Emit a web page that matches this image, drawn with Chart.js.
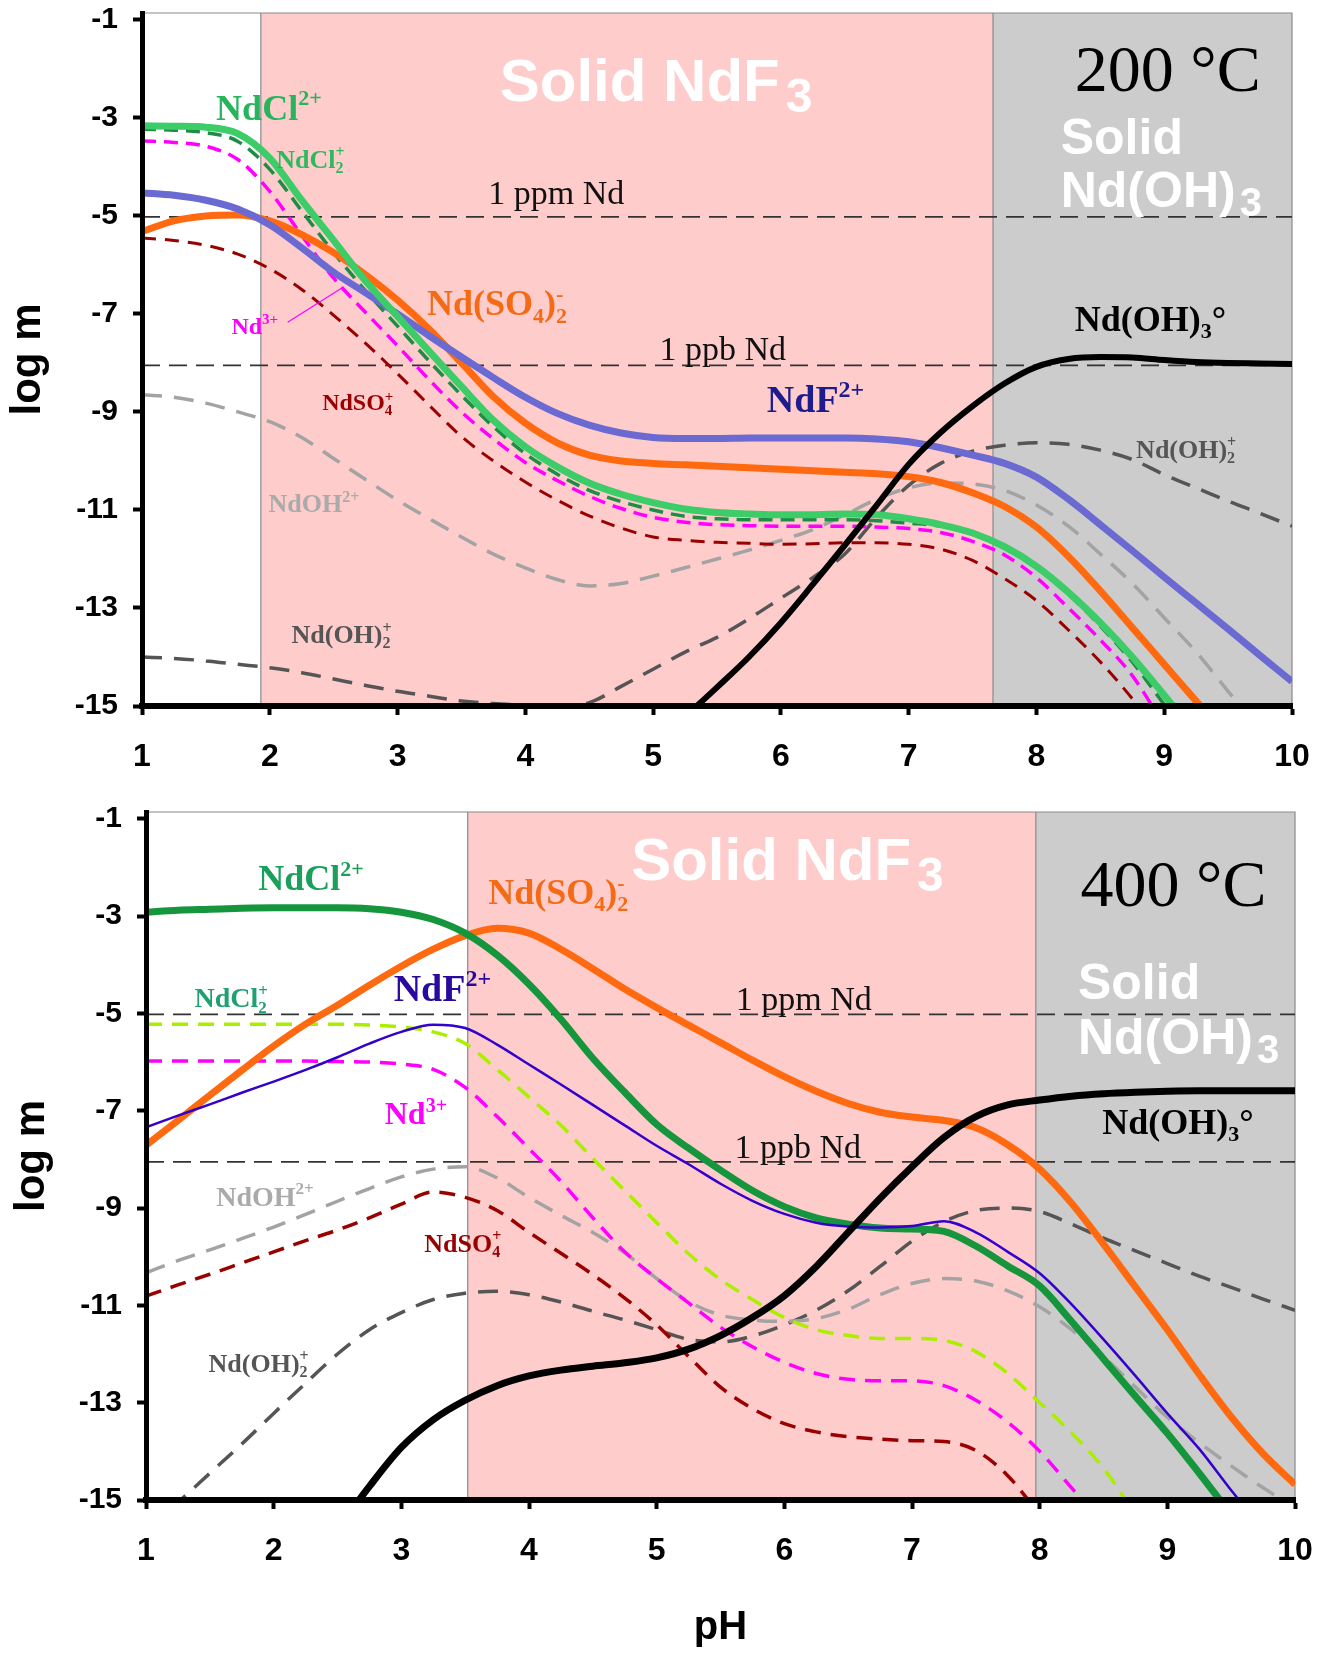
<!DOCTYPE html>
<html>
<head>
<meta charset="utf-8">
<title>Nd speciation vs pH, 200 and 400 °C</title>
<script src="https://cdn.jsdelivr.net/npm/chart.js@4.4.1/dist/chart.umd.min.js"></script>
<style>
  body { margin: 0; background: #fff; }
  #wrap { position: relative; width: 1321px; height: 1654px; }
  canvas { position: absolute; left: 0; }
  #chart200 { top: 0; }
  #chart400 { top: 780px; }
</style>
</head>
<body>
<div id="wrap">
  <canvas id="chart200" width="1321" height="780"></canvas>
  <canvas id="chart400" width="1321" height="874"></canvas>
</div>
<script>
// pH grid shared by every curve
const pH = [1, 1.25, 1.5, 1.75, 2, 2.25, 2.5, 2.75,
            3, 3.25, 3.5, 3.75, 4, 4.25, 4.5, 4.75,
            5, 5.25, 5.5, 5.75, 6, 6.25, 6.5, 6.75,
            7, 7.25, 7.5, 7.75, 8, 8.25, 8.5, 8.75,
            9, 9.25, 9.5, 9.75, 10];

const logTicks = [-1, -3, -5, -7, -9, -11, -13, -15];
const ppmLevel = -5.02;
const ppbLevel = -8.05;

// pH where solid NdF3 field starts, where solid Nd(OH)3 field starts
const fields200 = [1.93, 7.66];
const fields400 = [3.52, 7.97];

// ---- 200 °C (log m) ----
const t200_NdCl = [-3.16, -3.17, -3.19, -3.32, -3.82, -4.68, -5.5, -6.33,
  -7.05, -7.77, -8.48, -9.17, -9.71, -10.12, -10.45, -10.68,
  -10.85, -10.98, -11.05, -11.08, -11.1, -11.1, -11.08, -11.1,
  -11.18, -11.3, -11.47, -11.75, -12.15, -12.68, -13.3, -14.0,
  -14.78, -15.6, null, null, null];
const t200_NdCl2 = [-3.23, -3.25, -3.3, -3.48, -4.05, -4.9, -5.75, -6.53,
  -7.25, -7.97, -8.66, -9.3, -9.85, -10.27, -10.6, -10.83,
  -11.0, -11.13, -11.18, -11.2, -11.2, -11.2, -11.2, -11.22,
  -11.27, -11.33, -11.5, -11.78, -12.18, -12.72, -13.37, -14.1,
  -14.97, -15.8, null, null, null];
const t200_Nd = [-3.47, -3.5, -3.58, -3.85, -4.5, -5.4, -6.27, -6.97,
  -7.65, -8.35, -9.0, -9.55, -10.03, -10.4, -10.72, -10.97,
  -11.15, -11.25, -11.3, -11.32, -11.33, -11.33, -11.33, -11.35,
  -11.38, -11.46, -11.64, -11.92, -12.38, -13.0, -13.65, -14.38,
  -15.4, null, null, null, null];
const t200_NdF = [-4.53, -4.58, -4.68, -4.86, -5.18, -5.65, -6.15, -6.57,
  -7.0, -7.45, -7.88, -8.3, -8.7, -9.03, -9.27, -9.43,
  -9.52, -9.54, -9.54, -9.53, -9.53, -9.53, -9.53, -9.55,
  -9.61, -9.73, -9.88, -10.05, -10.33, -10.78, -11.3, -11.83,
  -12.37, -12.9, -13.43, -13.97, -14.5];
const t200_NdSO4_2 = [-5.32, -5.1, -5.0, -4.98, -5.1, -5.38, -5.75, -6.2,
  -6.72, -7.32, -8.0, -8.69, -9.23, -9.63, -9.88, -10.0,
  -10.05, -10.08, -10.11, -10.14, -10.17, -10.2, -10.23, -10.26,
  -10.32, -10.44, -10.65, -10.93, -11.35, -11.95, -12.65, -13.4,
  -14.15, -14.9, -15.65, null, null];
const t200_NdSO4 = [-5.45, -5.5, -5.6, -5.78, -6.08, -6.5, -7.03, -7.6,
  -8.22, -8.87, -9.5, -10.0, -10.43, -10.8, -11.12, -11.37,
  -11.55, -11.62, -11.66, -11.68, -11.7, -11.69, -11.67, -11.67,
  -11.7, -11.8, -12.03, -12.4, -12.85, -13.45, -14.1, -14.85,
  -15.7, null, null, null, null];
const t200_NdOH = [-8.65, -8.7, -8.82, -9.0, -9.2, -9.52, -9.95, -10.38,
  -10.8, -11.18, -11.55, -11.9, -12.18, -12.42, -12.55, -12.5,
  -12.35, -12.18, -12.0, -11.82, -11.62, -11.4, -11.1, -10.78,
  -10.55, -10.45, -10.47, -10.6, -10.9, -11.33, -11.9, -12.5,
  -13.2, -13.9, -14.7, -15.5, null];
const t200_NdOH2 = [-14.0, -14.03, -14.08, -14.15, -14.22, -14.32, -14.45, -14.58,
  -14.7, -14.8, -14.9, -14.95, -14.98, -15.0, -14.93, -14.6,
  -14.25, -13.9, -13.6, -13.22, -12.8, -12.38, -11.9, -11.15,
  -10.5, -10.05, -9.8, -9.68, -9.63, -9.66, -9.78, -9.97,
  -10.28, -10.55, -10.82, -11.07, -11.33];
const t200_NdOH3 = [null, null, null, null, null, null, null, null,
  null, null, null, null, null, null, null, null,
  null, -15.22, -14.62, -14.0, -13.3, -12.52, -11.72, -10.9,
  -10.07, -9.42, -8.88, -8.42, -8.08, -7.92, -7.88, -7.89,
  -7.94, -7.98, -8.0, -8.01, -8.02];

// ---- 400 °C (log m) ----
const t400_NdCl = [-2.92, -2.88, -2.86, -2.84, -2.83, -2.83, -2.83, -2.85,
  -2.92, -3.07, -3.35, -3.8, -4.4, -5.12, -5.92, -6.62,
  -7.28, -7.77, -8.22, -8.64, -8.97, -9.2, -9.33, -9.41,
  -9.43, -9.48, -9.78, -10.19, -10.6, -11.33, -12.1, -12.87,
  -13.63, -14.45, -15.3, null, null];
const t400_NdCl2 = [-5.22, -5.22, -5.22, -5.22, -5.22, -5.22, -5.22, -5.24,
  -5.28, -5.38, -5.62, -6.15, -6.72, -7.3, -7.98, -8.64,
  -9.3, -9.94, -10.47, -10.88, -11.25, -11.5, -11.62, -11.68,
  -11.68, -11.72, -11.95, -12.4, -13.0, -13.62, -14.35, -15.3,
  null, null, null, null, null];
const t400_Nd = [-5.98, -5.98, -5.98, -5.98, -5.98, -5.98, -5.99, -6.0,
  -6.04, -6.15, -6.52, -7.12, -7.78, -8.45, -9.2, -9.9,
  -10.45, -10.95, -11.45, -11.85, -12.17, -12.4, -12.52, -12.55,
  -12.55, -12.65, -12.95, -13.4, -14.0, -14.75, -15.5, null,
  null, null, null, null, null];
const t400_NdF = [-7.34, -7.1, -6.87, -6.63, -6.4, -6.16, -5.9, -5.62,
  -5.38, -5.23, -5.3, -5.64, -6.05, -6.46, -6.88, -7.3,
  -7.72, -8.1, -8.5, -8.85, -9.12, -9.3, -9.38, -9.4,
  -9.37, -9.27, -9.5, -9.9, -10.34, -10.98, -11.7, -12.45,
  -13.22, -13.95, -14.8, -15.6, null];
const t400_NdSO4_2 = [-7.71, -7.2, -6.68, -6.17, -5.67, -5.22, -4.83, -4.42,
  -4.03, -3.68, -3.4, -3.25, -3.35, -3.68, -4.08, -4.5,
  -4.88, -5.24, -5.6, -5.96, -6.3, -6.6, -6.85, -7.03,
  -7.13, -7.2, -7.35, -7.7, -8.2, -8.9, -9.74, -10.62,
  -11.5, -12.42, -13.29, -14.05, -14.68];
const t400_NdSO4 = [-10.81, -10.58, -10.36, -10.13, -9.9, -9.67, -9.45, -9.2,
  -8.92, -8.67, -8.78, -9.05, -9.5, -9.93, -10.37, -10.85,
  -11.4, -12.05, -12.68, -13.12, -13.43, -13.6, -13.7, -13.75,
  -13.78, -13.8, -13.98, -14.5, -15.3, null, null, null,
  null, null, null, null, null];
const t400_NdOH = [-10.33, -10.08, -9.86, -9.63, -9.39, -9.13, -8.86, -8.6,
  -8.36, -8.2, -8.15, -8.38, -8.78, -9.15, -9.5, -9.92,
  -10.45, -10.92, -11.2, -11.3, -11.33, -11.27, -11.08, -10.78,
  -10.55, -10.45, -10.5, -10.7, -11.03, -11.5, -12.05, -12.68,
  -13.3, -13.82, -14.3, -14.75, -15.15];
const t400_NdOH2 = [-15.6, -15.05, -14.45, -13.85, -13.22, -12.6, -12.0, -11.5,
  -11.15, -10.88, -10.75, -10.71, -10.78, -10.93, -11.12, -11.3,
  -11.5, -11.7, -11.75, -11.63, -11.4, -11.1, -10.7, -10.2,
  -9.68, -9.28, -9.05, -9.0, -9.07, -9.33, -9.62, -9.88,
  -10.14, -10.4, -10.63, -10.87, -11.1];
const t400_NdOH3 = [null, null, null, null, null, null, -15.6, -14.72,
  -13.92, -13.35, -12.95, -12.65, -12.45, -12.33, -12.25, -12.18,
  -12.08, -11.9, -11.62, -11.25, -10.8, -10.2, -9.5, -8.8,
  -8.15, -7.55, -7.12, -6.88, -6.78, -6.7, -6.65, -6.62,
  -6.6, -6.59, -6.59, -6.59, -6.59];

const SANS = '"Liberation Sans", Arial, sans-serif';
const SERIF = '"Liberation Serif", "Times New Roman", serif';

function curve(label, values, color, width, dash) {
  return {
    label: label,
    data: pH.map((x, i) => ({ x: x, y: values[i] })),
    borderColor: color,
    borderWidth: width,
    borderDash: dash || [],
    borderCapStyle: 'butt',
    borderJoinStyle: 'round',
    pointRadius: 0,
    fill: false,
    cubicInterpolationMode: 'monotone',
    spanGaps: false,
    clip: 0
  };
}

function refLine(label, level) {
  return {
    label: label,
    data: [{ x: 1, y: level }, { x: 10, y: level }],
    borderColor: '#333',
    borderWidth: 1.6,
    borderDash: [18, 9],
    pointRadius: 0,
    fill: false,
    clip: 0
  };
}

// Background stability fields + thin frame
const fieldsPlugin = {
  id: 'fields',
  beforeDraw(chart, args, opts) {
    const { ctx, chartArea: a, scales: { x } } = chart;
    const x1 = x.getPixelForValue(opts.bounds[0]);
    const x2 = x.getPixelForValue(opts.bounds[1]);
    ctx.save();
    ctx.fillStyle = '#ffcccc';
    ctx.fillRect(x1, a.top, x2 - x1, a.bottom - a.top);
    ctx.fillStyle = '#cccccc';
    ctx.fillRect(x2, a.top, a.right - x2, a.bottom - a.top);
    ctx.strokeStyle = '#8a8a8a';
    ctx.lineWidth = 1.2;
    ctx.beginPath();
    ctx.moveTo(x1, a.bottom); ctx.lineTo(x1, a.top);
    ctx.moveTo(x2, a.bottom); ctx.lineTo(x2, a.top);
    ctx.moveTo(a.left, a.top); ctx.lineTo(a.right, a.top); ctx.lineTo(a.right, a.bottom);
    ctx.stroke();
    ctx.restore();
  }
};

// Text with superscripts / subscripts, anchored at the left baseline
function drawRich(ctx, x, y, lab) {
  const size = lab.size;
  const weight = lab.weight || 'bold';
  const family = lab.family || SERIF;
  const subScale = lab.subScale || 0.62;
  const small = Math.round(size * subScale);
  ctx.fillStyle = lab.color;
  ctx.textAlign = 'left';
  ctx.textBaseline = 'alphabetic';
  lab.parts.forEach(p => {
    if (p.gap) { x += p.gap; return; }
    if (p.n !== undefined) {
      ctx.font = weight + ' ' + size + 'px ' + family;
      ctx.fillText(p.n, x, y);
      x += ctx.measureText(p.n).width;
      return;
    }
    ctx.font = weight + ' ' + small + 'px ' + family;
    let w = 0;
    if (p.sup) {
      ctx.fillText(p.sup, x, y - size * 0.4);
      w = ctx.measureText(p.sup).width;
    }
    if (p.sub) {
      ctx.fillText(p.sub, x, y + size * (lab.subShift || 0.2));
      w = Math.max(w, ctx.measureText(p.sub).width);
    }
    x += w;
  });
}

const labelsPlugin = {
  id: 'speciesLabels',
  afterDraw(chart, args, opts) {
    const { ctx, scales: { x, y } } = chart;
    ctx.save();
    (opts.leaders || []).forEach(l => {
      ctx.strokeStyle = l.color;
      ctx.lineWidth = 1.2;
      ctx.beginPath();
      ctx.moveTo(x.getPixelForValue(l.from[0]), y.getPixelForValue(l.from[1]));
      ctx.lineTo(x.getPixelForValue(l.to[0]), y.getPixelForValue(l.to[1]));
      ctx.stroke();
    });
    (opts.items || []).forEach(lab => {
      drawRich(ctx, x.getPixelForValue(lab.x), y.getPixelForValue(lab.y), lab);
    });
    ctx.restore();
  }
};

const labels200 = [
  { x: 3.80, y: -2.65, parts: [{ n: 'Solid NdF' }, { gap: 6 }, { sub: '3' }], size: 60, family: SANS, color: '#fff', subScale: 0.8, subShift: 0.18 },
  { x: 8.30, y: -2.45, parts: [{ n: '200 °C' }], size: 66, weight: 'normal', color: '#000' },
  { x: 8.19, y: -3.73, parts: [{ n: 'Solid' }], size: 50, family: SANS, color: '#fff' },
  { x: 8.19, y: -4.81, parts: [{ n: 'Nd(OH)' }, { gap: 4 }, { sub: '3' }], size: 50, family: SANS, color: '#fff', subScale: 0.8, subShift: 0.18 },
  { x: 1.58, y: -3.04, parts: [{ n: 'NdCl' }, { sup: '2+' }], size: 36, color: '#28b45c' },
  { x: 2.05, y: -4.02, parts: [{ n: 'NdCl' }, { sub: '2', sup: '+' }], size: 26, color: '#2fb860' },
  { x: 3.71, y: -4.75, parts: [{ n: '1 ppm Nd' }], size: 34, weight: 'normal', color: '#111' },
  { x: 3.23, y: -7.03, parts: [{ n: 'Nd(SO' }, { sub: '4' }, { n: ')' }, { sub: '2', sup: '-' }], size: 36, color: '#f56b15' },
  { x: 1.70, y: -7.40, parts: [{ n: 'Nd' }, { sup: '3+' }], size: 24, color: '#ff00ff' },
  { x: 5.05, y: -7.95, parts: [{ n: '1 ppb Nd' }], size: 34, weight: 'normal', color: '#111' },
  { x: 2.41, y: -8.97, parts: [{ n: 'NdSO' }, { sub: '4', sup: '+' }], size: 24, color: '#990000' },
  { x: 5.89, y: -9.01, parts: [{ n: 'NdF' }, { sup: '2+' }], size: 38, color: '#1c1c8f' },
  { x: 8.30, y: -7.34, parts: [{ n: 'Nd(OH)' }, { sub: '3' }, { n: '°' }], size: 36, color: '#000' },
  { x: 8.78, y: -9.93, parts: [{ n: 'Nd(OH)' }, { sub: '2', sup: '+' }], size: 26, color: '#555' },
  { x: 1.99, y: -11.05, parts: [{ n: 'NdOH' }, { sup: '2+' }], size: 26, color: '#aaaaaa' },
  { x: 2.17, y: -13.72, parts: [{ n: 'Nd(OH)' }, { sub: '2', sup: '+' }], size: 26, color: '#555' }
];
const leaders200 = [{ from: [2.14, -7.17], to: [2.57, -6.46], color: '#ff00ff' }];

const labels400 = [
  { x: 4.80, y: -2.26, parts: [{ n: 'Solid NdF' }, { gap: 6 }, { sub: '3' }], size: 60, family: SANS, color: '#fff', subScale: 0.8, subShift: 0.18 },
  { x: 8.32, y: -2.79, parts: [{ n: '400 °C' }], size: 66, weight: 'normal', color: '#000' },
  { x: 8.30, y: -4.71, parts: [{ n: 'Solid' }], size: 50, family: SANS, color: '#fff' },
  { x: 8.30, y: -5.84, parts: [{ n: 'Nd(OH)' }, { gap: 4 }, { sub: '3' }], size: 50, family: SANS, color: '#fff', subScale: 0.8, subShift: 0.18 },
  { x: 1.88, y: -2.47, parts: [{ n: 'NdCl' }, { sup: '2+' }], size: 36, color: '#1aa05a' },
  { x: 3.68, y: -2.75, parts: [{ n: 'Nd(SO' }, { sub: '4' }, { n: ')' }, { sub: '2', sup: '-' }], size: 36, color: '#f56b15' },
  { x: 1.38, y: -4.87, parts: [{ n: 'NdCl' }, { sub: '2', sup: '+' }], size: 28, color: '#1ea070' },
  { x: 2.94, y: -4.75, parts: [{ n: 'NdF' }, { sup: '2+' }], size: 38, color: '#2a0a9e' },
  { x: 5.62, y: -4.93, parts: [{ n: '1 ppm Nd' }], size: 34, weight: 'normal', color: '#111' },
  { x: 2.87, y: -7.28, parts: [{ n: 'Nd' }, { sup: '3+' }], size: 32, color: '#ff00ff' },
  { x: 5.61, y: -7.97, parts: [{ n: '1 ppb Nd' }], size: 34, weight: 'normal', color: '#111' },
  { x: 8.49, y: -7.47, parts: [{ n: 'Nd(OH)' }, { sub: '3' }, { n: '°' }], size: 36, color: '#000' },
  { x: 1.55, y: -8.95, parts: [{ n: 'NdOH' }, { sup: '2+' }], size: 28, color: '#aaaaaa' },
  { x: 3.18, y: -9.90, parts: [{ n: 'NdSO' }, { sub: '4', sup: '+' }], size: 26, color: '#990000' },
  { x: 1.49, y: -12.36, parts: [{ n: 'Nd(OH)' }, { sub: '2', sup: '+' }], size: 26, color: '#555' }
];

function makeChart(id, datasets, cfg) {
  return new Chart(document.getElementById(id), {
    type: 'line',
    data: { datasets: datasets },
    options: {
      responsive: false,
      animation: false,
      devicePixelRatio: 1,
      layout: { autoPadding: false, padding: { top: cfg.padTop, right: cfg.padRight, left: 0, bottom: 0 } },
      plugins: {
        legend: { display: false },
        tooltip: { enabled: false },
        fields: { bounds: cfg.fields },
        speciesLabels: { items: cfg.labels, leaders: cfg.leaders }
      },
      scales: {
        x: {
          type: 'linear', min: 1, max: 10,
          ticks: { stepSize: 1, padding: 23, color: '#000', font: { family: SANS, size: 32, weight: 'bold' } },
          grid: { drawOnChartArea: false, drawTicks: true, tickLength: 9, tickWidth: 4, tickColor: '#000' },
          border: { display: true, color: '#000', width: 6, z: 1 },
          title: {
            display: cfg.showPH, text: 'pH', color: '#000',
            font: { family: SANS, size: 40, weight: 'bold' }, padding: { top: 0, bottom: 2 }
          },
          afterFit(scale) {
            scale.height = cfg.xHeight;
            scale.paddingLeft = 0;
            scale.paddingRight = 0;
          }
        },
        y: {
          type: 'linear', min: -15, max: -0.86,
          afterBuildTicks(scale) { scale.ticks = logTicks.map(v => ({ value: v })); },
          ticks: { padding: 15, color: '#000', font: { family: SANS, size: 30, weight: 'bold' }, callback: v => String(v) },
          grid: { drawOnChartArea: false, drawTicks: true, tickLength: 9, tickWidth: 4, tickColor: '#000' },
          border: { display: true, color: '#000', width: 5, z: 1 },
          title: {
            display: true, text: 'log m', color: '#000',
            font: { family: SANS, size: 42, weight: 'bold' }, padding: { top: cfg.titlePad, bottom: 0 }
          },
          afterFit(scale) {
            scale.width = cfg.yWidth;
            scale.paddingTop = 0;
            scale.paddingBottom = 0;
          }
        }
      }
    },
    plugins: [fieldsPlugin, labelsPlugin]
  });
}

// first dataset is drawn on top
makeChart('chart200', [
  curve('Nd(OH)3°', t200_NdOH3, '#000', 6),
  curve('NdCl2+', t200_NdCl, '#3ccc68', 7),
  curve('NdF2+', t200_NdF, '#6a6ad2', 7),
  curve('Nd(SO4)2-', t200_NdSO4_2, '#ff6a10', 7),
  curve('NdCl2+ (Cl2)', t200_NdCl2, '#1f8c46', 3.5, [14, 8]),
  curve('Nd3+', t200_Nd, '#ff00ff', 3.5, [14, 8]),
  curve('NdSO4+', t200_NdSO4, '#990000', 3, [14, 9]),
  curve('NdOH2+', t200_NdOH, '#a3a3a3', 3.5, [20, 12]),
  curve('Nd(OH)2+', t200_NdOH2, '#555555', 3.5, [20, 12]),
  refLine('1 ppm Nd', ppmLevel),
  refLine('1 ppb Nd', ppbLevel)
], { padTop: 13, padRight: 29, xHeight: 74, yWidth: 142, titlePad: 3, showPH: false,
     fields: fields200, labels: labels200, leaders: leaders200 });

makeChart('chart400', [
  curve('Nd(OH)3°', t400_NdOH3, '#000', 7),
  curve('NdF2+', t400_NdF, '#3300cc', 2.5),
  curve('NdCl2+', t400_NdCl, '#15963c', 7),
  curve('Nd(SO4)2-', t400_NdSO4_2, '#ff6a10', 7),
  curve('NdCl2+ (Cl2)', t400_NdCl2, '#aaee00', 3.5, [16, 10]),
  curve('Nd3+', t400_Nd, '#ff00ff', 3.5, [16, 10]),
  curve('NdSO4+', t400_NdSO4, '#990000', 3.5, [16, 10]),
  curve('NdOH2+', t400_NdOH, '#a3a3a3', 3.5, [20, 12]),
  curve('Nd(OH)2+', t400_NdOH2, '#555555', 3.5, [20, 12]),
  refLine('1 ppm Nd', ppmLevel),
  refLine('1 ppb Nd', ppbLevel)
], { padTop: 32, padRight: 26, xHeight: 154, yWidth: 146, titlePad: 7, showPH: true,
     fields: fields400, labels: labels400, leaders: [] });
</script>
</body>
</html>
